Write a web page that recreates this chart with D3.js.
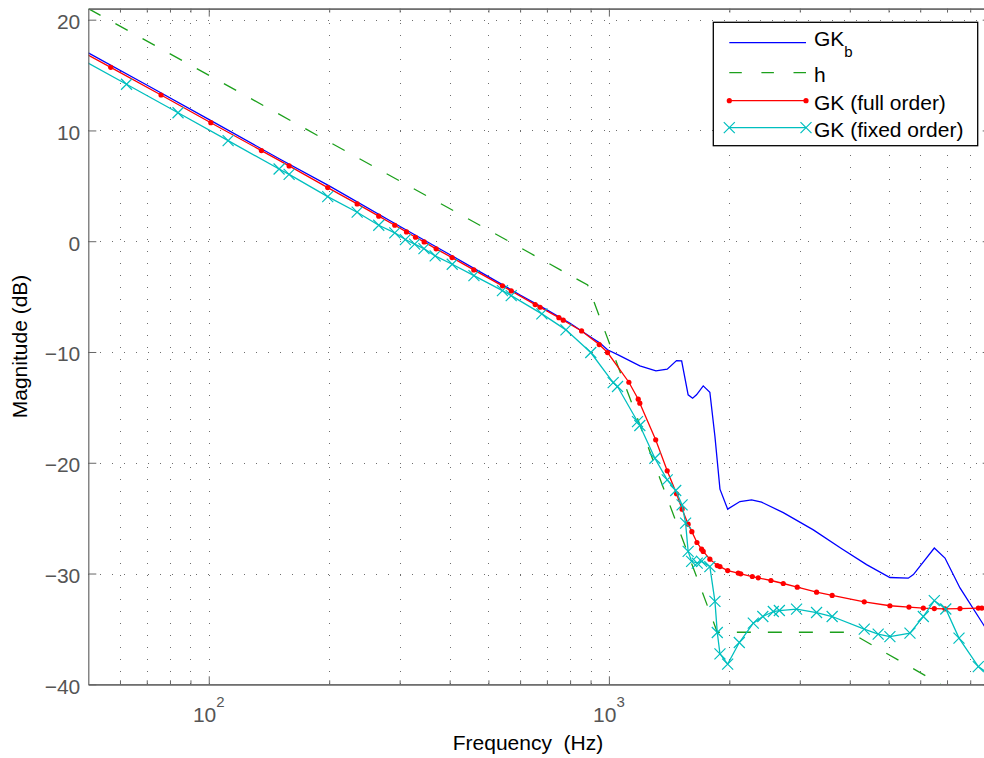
<!DOCTYPE html>
<html><head><meta charset="utf-8">
<script src="https://cdn.jsdelivr.net/npm/d3@7"></script>
<style>
body{margin:0;background:#fff}
svg{display:block;background:#fff}
text{font-family:"Liberation Sans",Arial,Helvetica,sans-serif}
</style>
</head><body>
<svg id="chart" width="984" height="758"></svg>
<script>
// ---------------- data ----------------
const blueFreq = [50, 70, 100, 150, 200, 300, 400, 500, 600, 700, 800, 900, 950, 992, 1055, 1195, 1311, 1399, 1476, 1520, 1578, 1619, 1656, 1721, 1788, 1841, 1895, 1981, 2126, 2273, 2408, 2728, 3243, 3819, 4406, 5039, 5600, 5768, 6506, 6918, 7542, 8627, 9000];
const blueMag  = [17.0, 14.1, 11.0, 7.45, 5.0, 1.35, -1.2, -3.2, -4.85, -6.2, -7.4, -8.65, -9.2, -9.8, -10.26, -11.25, -11.7, -11.55, -10.78, -10.8, -13.87, -14.17, -13.87, -13.06, -13.63, -17.63, -22.38, -24.19, -23.5, -23.35, -23.56, -24.5, -26.06, -27.77, -29.2, -30.36, -30.42, -30.1, -27.7, -28.6, -31.3, -34.6, -35.6];

const hFreq = [50, 885, 1866, 4000, 9000];
const hMag  = [21.0, -3.95, -35.3, -35.3, -42.6];

const redFreq = [45, 56.9, 76.0, 101.2, 135.4, 158.8, 198.3, 234.9, 266, 291.7, 312, 328.6, 345.4, 370, 405.6, 459.6, 542, 570, 654.5, 673, 750, 769, 854.6, 946, 992.4, 1122, 1184, 1195, 1309, 1399, 1476, 1524, 1578, 1612, 1660, 1705, 1721, 1788, 1866, 1895, 1981, 2105, 2136, 2283, 2362, 2541, 2728, 2957, 3304, 3614, 4347, 5039, 5623, 6107, 6506, 6918, 7542, 8381, 8550, 9500];
const redMag  = [17.7, 15.7, 13.2, 10.7, 8.18, 6.8, 4.84, 3.37, 2.26, 1.44, 0.84, 0.36, -0.06, -0.69, -1.48, -2.59, -4.03, -4.49, -5.72, -5.96, -6.9, -7.13, -8.1, -9.33, -10.05, -12.73, -14.26, -14.62, -17.93, -20.73, -22.8, -24.19, -25.54, -26.22, -27.2, -27.8, -28.0, -28.7, -29.28, -29.37, -29.73, -29.96, -30.03, -30.27, -30.39, -30.63, -30.9, -31.23, -31.68, -31.98, -32.55, -32.91, -33.03, -33.12, -33.16, -33.19, -33.16, -33.12, -33.12, -33.1];

const cyanFreq = [45, 62.3, 83.8, 111.8, 149.9, 158.8, 198.3, 234.9, 266, 291.7, 310, 327, 345, 368, 406, 460, 542, 570, 680, 781, 901, 1025, 1051, 1179, 1195, 1303, 1399, 1469, 1524, 1555, 1578, 1610, 1663, 1705, 1788, 1841, 1866, 1895, 1981, 2118, 2296, 2425, 2576, 2667, 2945, 3304, 3614, 4347, 4710, 5039, 5656, 6107, 6506, 6950, 7499, 8381, 9500];
const cyanMag  = [17.0, 14.17, 11.6, 9.08, 6.52, 6.04, 4.03, 2.62, 1.44, 0.75, 0.15, -0.26, -0.67, -1.33, -2.08, -3.1, -4.46, -4.91, -6.56, -8.0, -10.05, -12.76, -13.12, -16.28, -16.64, -19.59, -21.54, -22.5, -23.8, -25.45, -28.0, -28.9, -29.06, -28.9, -29.37, -32.52, -35.32, -37.25, -38.18, -36.23, -34.48, -33.88, -33.43, -33.34, -33.21, -33.52, -33.88, -35.02, -35.47, -35.69, -35.38, -33.88, -32.44, -33.2, -35.83, -38.4, -39.8];

const xMajorTicks = [100, 1000];
const xMajorExp = ["2", "3"];
const xMinorTicks = [60, 70, 80, 90, 200, 300, 400, 500, 600, 700, 800, 900, 2000, 3000, 4000, 5000, 6000, 7000, 8000, 9000];
const yTicks = [-40, -30, -20, -10, 0, 10, 20];
const legendLabels = ["GK", "h", "GK (full order)", "GK (fixed order)"];
const legendSubs = ["b", "", "", ""];
const xLabel = "Frequency  (Hz)";
const yLabel = "Magnitude (dB)";

// ---------------- layout ----------------
const L = 88.3, R = 990.7, T = 8.6, B = 684.3;
const FONT = 21;
const axisCol = "#666666", tickTxt = "#555555", gridCol = "#6e6e6e";
const colBlue = "#0000ff", colGreen = "#1ca01c", colRed = "#ff0000", colCyan = "#00bfbf";

const svg = d3.select("#chart");
const x = d3.scaleLog().domain([50, 9000]).range([L, R]);
const y = d3.scaleLinear().domain([-40, 21]).range([B, T]);

svg.append("rect").attr("width", 984).attr("height", 758).attr("fill", "#fff");

// grid
const grid = svg.append("g").attr("stroke", gridCol).attr("stroke-width", 1)
  .attr("stroke-dasharray", "1,11").attr("shape-rendering", "crispEdges");
grid.selectAll("line.v").data(xMinorTicks.concat(xMajorTicks)).join("line")
  .attr("x1", d => Math.round(x(d)) + 0.5).attr("x2", d => Math.round(x(d)) + 0.5)
  .attr("y1", B).attr("y2", T);
grid.selectAll("line.h").data(yTicks.filter(v => v > -40)).join("line")
  .attr("class", "h")
  .attr("y1", d => Math.round(y(d)) + 0.5).attr("y2", d => Math.round(y(d)) + 0.5)
  .attr("x1", L).attr("x2", R);

// clip
svg.append("clipPath").attr("id", "clip").append("rect")
  .attr("x", L).attr("y", T).attr("width", R - L).attr("height", B - T);
const plot = svg.append("g").attr("clip-path", "url(#clip)");

const line = d3.line().x(d => x(d[0])).y(d => y(d[1]));
const zip = (a, b) => a.map((v, i) => [v, b[i]]);

const blueData = zip(blueFreq, blueMag);
const hData = zip(hFreq, hMag);
const redData = zip(redFreq, redMag);
const cyanData = zip(cyanFreq, cyanMag);

plot.append("path").datum(blueData).attr("d", line).attr("fill", "none")
  .attr("stroke", colBlue).attr("stroke-width", 1.3);
plot.append("path").datum(hData).attr("d", line).attr("fill", "none")
  .attr("stroke", colGreen).attr("stroke-width", 1.3).attr("stroke-dasharray", "14,17");
plot.append("path").datum(redData).attr("d", line).attr("fill", "none")
  .attr("stroke", colRed).attr("stroke-width", 1.3);
plot.selectAll("circle.r").data(redData).join("circle")
  .attr("cx", d => x(d[0])).attr("cy", d => y(d[1])).attr("r", 2.6).attr("fill", colRed);
plot.append("path").datum(cyanData).attr("d", line).attr("fill", "none")
  .attr("stroke", colCyan).attr("stroke-width", 1.3);
const xMark = s => `M${-s},${-s}L${s},${s}M${-s},${s}L${s},${-s}`;
plot.selectAll("path.c").data(cyanData).join("path")
  .attr("class", "c")
  .attr("transform", d => `translate(${x(d[0])},${y(d[1])})`)
  .attr("d", xMark(5.5)).attr("stroke", colCyan).attr("stroke-width", 1.2).attr("fill", "none");

// axes
function styleAxis(g) {
  g.attr("font-size", FONT).attr("font-family", "Liberation Sans, Arial, sans-serif");
  g.selectAll("path.domain").attr("stroke", axisCol).attr("stroke-width", 1.2);
  g.selectAll(".tick line").attr("stroke", axisCol).attr("stroke-width", 1);
  g.selectAll(".tick text").attr("fill", tickTxt);
}
// bottom
svg.append("g").attr("transform", `translate(0,${B})`)
  .call(d3.axisBottom(x).tickValues(xMinorTicks).tickSize(-4).tickSizeOuter(0).tickFormat(() => ""))
  .call(styleAxis);
svg.append("g").attr("transform", `translate(0,${B})`)
  .call(d3.axisBottom(x).tickValues(xMajorTicks).tickSize(-8).tickSizeOuter(0).tickFormat(() => ""))
  .call(styleAxis);
// top
svg.append("g").attr("transform", `translate(0,${T})`)
  .call(d3.axisTop(x).tickValues(xMinorTicks).tickSize(-4).tickSizeOuter(0).tickFormat(() => ""))
  .call(styleAxis);
svg.append("g").attr("transform", `translate(0,${T})`)
  .call(d3.axisTop(x).tickValues(xMajorTicks).tickSize(-8).tickSizeOuter(0).tickFormat(() => ""))
  .call(styleAxis);
// left
svg.append("g").attr("transform", `translate(${L},0)`)
  .call(d3.axisLeft(y).tickValues(yTicks).tickSize(-8).tickSizeOuter(0).tickPadding(8)
    .tickFormat(d => d < 0 ? "\u2212" + Math.abs(d) : String(d)))
  .call(styleAxis)
  .call(g => g.selectAll(".tick text").attr("dy", "0.42em"));
// right
svg.append("g").attr("transform", `translate(${R},0)`)
  .call(d3.axisRight(y).tickValues(yTicks).tickSize(-8).tickSizeOuter(0).tickFormat(() => ""))
  .call(styleAxis);

// x tick labels with exponents
const xl = svg.append("g").attr("fill", tickTxt).attr("font-size", FONT);
xMajorTicks.forEach((v, i) => {
  const t = xl.append("text").attr("x", x(v)).attr("y", B + 38).attr("text-anchor", "middle");
  t.append("tspan").text("10");
  t.append("tspan").attr("font-size", 15).attr("dy", -15).text(xMajorExp[i]);
});

// axis titles
svg.append("text").attr("x", 528).attr("y", 750).attr("text-anchor", "middle")
  .attr("font-size", FONT).attr("fill", "#000").style("white-space", "pre").text(xLabel);
svg.append("text").attr("transform", `translate(27,${(T + B) / 2}) rotate(-90)`)
  .attr("text-anchor", "middle").attr("font-size", FONT).attr("fill", "#000").text(yLabel);

// legend
const lg = svg.append("g");
lg.append("rect").attr("x", 713.3).attr("y", 22.3).attr("width", 264.4).attr("height", 123.4)
  .attr("fill", "#fff").attr("stroke", "#000").attr("stroke-width", 1.3);
const rowY = [42.7, 72.7, 100.7, 127.7];
const lx1 = 729.3, lx2 = 806, tx = 814;
const styles = [
  {c: colBlue, dash: null, m: null},
  {c: colGreen, dash: "12.5,19.6", m: null},
  {c: colRed, dash: null, m: "dot"},
  {c: colCyan, dash: null, m: "x"}
];
legendLabels.forEach((lab, i) => {
  const s = styles[i], yy = rowY[i];
  const ln = lg.append("line").attr("x1", lx1).attr("x2", lx2).attr("y1", yy).attr("y2", yy)
    .attr("stroke", s.c).attr("stroke-width", 1.3);
  if (s.dash) ln.attr("stroke-dasharray", s.dash);
  [lx1, lx2].forEach(px => {
    if (s.m === "dot") lg.append("circle").attr("cx", px).attr("cy", yy).attr("r", 2.6).attr("fill", s.c);
    if (s.m === "x") lg.append("path").attr("transform", `translate(${px},${yy})`).attr("d", xMark(5.5))
      .attr("stroke", s.c).attr("stroke-width", 1.2).attr("fill", "none");
  });
  const t = lg.append("text").attr("x", tx).attr("y", yy + (legendSubs[i] ? 3.2 : 9))
    .attr("font-size", FONT).attr("fill", "#000");
  t.append("tspan").text(lab);
  if (legendSubs[i]) t.append("tspan").attr("font-size", 15).attr("dy", 11.5).text(legendSubs[i]);
});
</script>
</body></html>
